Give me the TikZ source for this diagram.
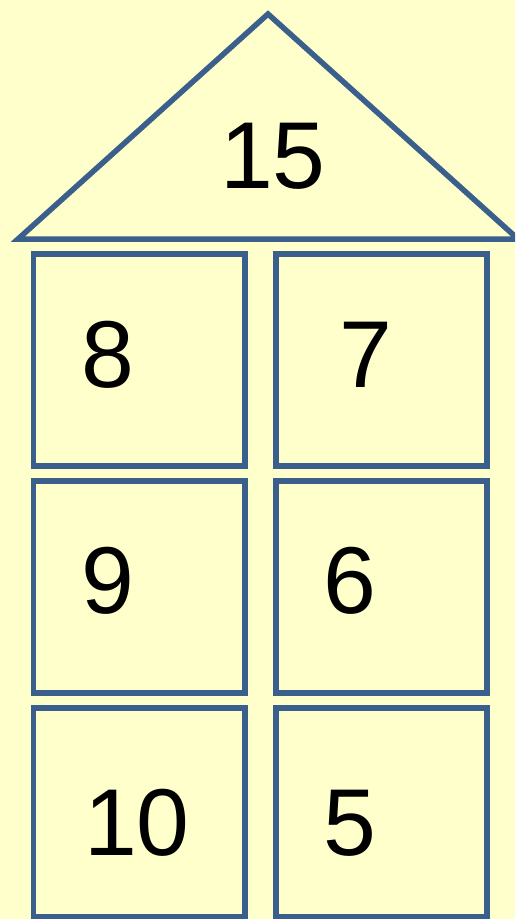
\documentclass[tikz,border=0pt]{standalone}
\usepackage{fontspec}
\setmainfont{Liberation Sans}
\definecolor{bg}{HTML}{FFFFCC}
\definecolor{edge}{HTML}{3A5F8C}
\begin{document}
\begin{tikzpicture}[x=1pt,y=-1pt,
  boxstyle/.style={draw=edge,line width=5.5pt},
  numstyle/.style={anchor=base,inner sep=0pt,font=\fontsize{95}{95}\selectfont,text=black}]
\useasboundingbox (0,0) rectangle (515,919);
\fill[bg] (0,0) rectangle (515,919);
\begin{scope}
\clip (0,0) rectangle (515,919);
\draw[boxstyle,line join=miter] (18,239) -- (268,14) -- (518,239) -- cycle;
\draw[boxstyle] (33.5,254) rectangle (245,466);
\draw[boxstyle] (276,254) rectangle (487,466);
\draw[boxstyle] (33.5,481) rectangle (245,693);
\draw[boxstyle] (276,481) rectangle (487,693);
\draw[boxstyle] (33.5,708) rectangle (245,917);
\draw[boxstyle] (276,708) rectangle (487,917);
\end{scope}
\node[numstyle] (n15) at (273,188) {15};
\node[numstyle] (n8) at (108,387) {8};
\node[numstyle] (n7) at (366,387) {7};
\node[numstyle] (n9) at (108,613) {9};
\node[numstyle] (n6) at (350,613) {6};
\node[numstyle] (n10) at (137,855) {10};
\node[numstyle] (n5) at (350,855) {5};
\end{tikzpicture}
\end{document}
